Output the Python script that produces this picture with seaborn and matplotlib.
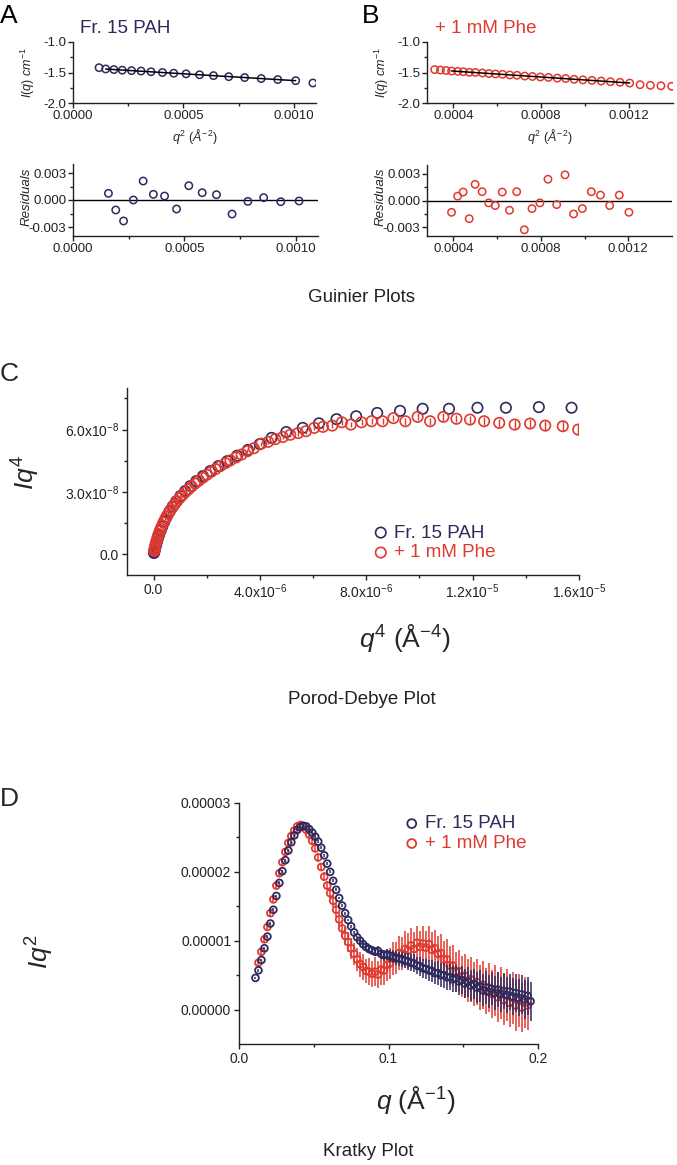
import matplotlib
matplotlib.use("Agg")
import matplotlib.pyplot as plt
import seaborn as sns
from matplotlib.ticker import FixedLocator, FormatStrFormatter, FixedFormatter

# ---- data: Guinier A (Fr. 15 PAH) ----
guinA_x = [0.000118, 0.000148, 0.000185, 0.000223, 0.000265, 0.000308, 0.000353, 0.000405, 0.000456,
           0.000512, 0.000573, 0.000636, 0.000705, 0.000777, 0.000852, 0.000927, 0.001008, 0.001086]
guinA_y = [-1.421, -1.442, -1.452, -1.462, -1.469, -1.476, -1.488, -1.500, -1.512,
           -1.522, -1.537, -1.551, -1.568, -1.583, -1.599, -1.616, -1.634, -1.672]
fitA_x = [0.000148, 0.001008]
fitA_y = [-1.443, -1.634]
residA_x = [0.000159, 0.000192, 0.000227, 0.000271, 0.000315, 0.000361, 0.000411, 0.000465,
            0.000520, 0.000580, 0.000644, 0.000714, 0.000785, 0.000856, 0.000933, 0.001015]
residA = [0.00074, -0.00111, -0.00233, 0.0, 0.00211, 0.00063, 0.00044, -0.0010,
          0.00159, 0.00081, 0.00059, -0.00156, -0.00015, 0.00026, -0.00019, -0.00011]

# ---- data: Guinier B (+ 1 mM Phe) ----
guinB_x = [0.000315, 0.000341, 0.000367, 0.000392, 0.000420, 0.000445, 0.000473, 0.000500, 0.000532,
           0.000562, 0.000592, 0.000624, 0.000657, 0.000690, 0.000725, 0.000760, 0.000796, 0.000833,
           0.000873, 0.000911, 0.000950, 0.000990, 0.001031, 0.001073, 0.001115, 0.001159, 0.001203,
           0.001250, 0.001297, 0.001345, 0.001394]
guinB_y = [-1.452, -1.460, -1.467, -1.476, -1.481, -1.487, -1.497, -1.499, -1.508,
           -1.517, -1.524, -1.530, -1.541, -1.546, -1.559, -1.565, -1.574, -1.580,
           -1.592, -1.598, -1.612, -1.621, -1.629, -1.640, -1.651, -1.661, -1.673,
           -1.700, -1.710, -1.718, -1.726]
fitB_x = [0.000392, 0.001203]
fitB_y = [-1.475, -1.672]
residB_x = guinB_x[3:27]
residB = [-0.00133, 0.00049, 0.00095, -0.00205, 0.00182, 0.00099, -0.00027, -0.00057,
          0.00095, -0.0011, 0.00099, -0.0033, -0.00091, -0.00027, 0.0024, -0.00046,
          0.00289, -0.00152, -0.00091, 0.00099, 0.00061, -0.00057, 0.00061, -0.00133]

# ---- data: Porod-Debye (x in 1e-6 A^-4, y in 1e-8) ----
porod_pah_x = [0.014, 0.022, 0.033, 0.048, 0.067, 0.092, 0.122, 0.160, 0.206, 0.261, 0.326, 0.403,
               0.493, 0.597, 0.717, 0.854, 1.010, 1.186, 1.384, 1.606, 1.854, 2.129, 2.434, 2.771,
               3.141, 3.548, 3.992, 4.44, 4.99, 5.61, 6.22, 6.88, 7.62, 8.41, 9.27, 10.12, 11.11,
               12.18, 13.25, 14.49, 15.72]
porod_pah_y = [0.06, 0.10, 0.16, 0.24, 0.33, 0.45, 0.58, 0.75, 0.93, 1.12, 1.33, 1.56,
               1.80, 2.05, 2.30, 2.55, 2.80, 3.04, 3.28, 3.52, 3.76, 4.00, 4.24, 4.48,
               4.74, 5.02, 5.30, 5.60, 5.88, 6.08, 6.30, 6.50, 6.64, 6.80, 6.90, 7.00, 7.00,
               7.05, 7.05, 7.08, 7.05]
porod_phe_x = [0.02, 0.03, 0.045, 0.06, 0.08, 0.10, 0.13, 0.16, 0.19, 0.23, 0.27, 0.32, 0.37, 0.43,
               0.49, 0.56, 0.63, 0.71, 0.79, 0.88, 0.98, 1.08, 1.19, 1.31, 1.43, 1.56, 1.70, 1.85,
               2.00, 2.16, 2.33, 2.51, 2.70, 2.89, 3.10, 3.31, 3.53, 3.77, 4.05, 4.31, 4.58, 4.86,
               5.14, 5.43, 5.73, 6.04, 6.37, 6.72, 7.08, 7.42, 7.82, 8.20, 8.61, 9.02, 9.47, 9.93,
               10.40, 10.90, 11.39, 11.90, 12.43, 13.00, 13.58, 14.16, 14.73, 15.39, 15.97]
porod_phe_y = [0.15, 0.22, 0.30, 0.40, 0.50, 0.60, 0.72, 0.85, 0.97, 1.10, 1.24, 1.38, 1.52, 1.68,
               1.82, 1.97, 2.12, 2.26, 2.40, 2.55, 2.70, 2.84, 2.98, 3.12, 3.26, 3.40, 3.54, 3.68,
               3.82, 3.96, 4.10, 4.24, 4.38, 4.52, 4.66, 4.80, 4.96, 5.10, 5.32, 5.41, 5.54, 5.64,
               5.75, 5.83, 5.92, 6.08, 6.13, 6.19, 6.35, 6.24, 6.35, 6.40, 6.40, 6.55, 6.40, 6.61,
               6.40, 6.61, 6.52, 6.48, 6.40, 6.32, 6.24, 6.29, 6.19, 6.16, 6.00]
porod_phe_err = [0.03, 0.03, 0.03, 0.03, 0.03, 0.03, 0.03, 0.03, 0.03, 0.03, 0.04, 0.04, 0.04, 0.04,
                 0.04, 0.04, 0.05, 0.05, 0.05, 0.05, 0.05, 0.05, 0.06, 0.06, 0.06, 0.06, 0.07, 0.07,
                 0.07, 0.07, 0.08, 0.08, 0.08, 0.08, 0.09, 0.09, 0.09, 0.10, 0.10, 0.10, 0.11, 0.11,
                 0.11, 0.12, 0.12, 0.12, 0.13, 0.13, 0.13, 0.14, 0.14, 0.15, 0.15, 0.16, 0.16, 0.17,
                 0.17, 0.18, 0.18, 0.19, 0.19, 0.20, 0.21, 0.22, 0.23, 0.24, 0.25]

# ---- data: Kratky (q in A^-1, Iq2 in 1e-5) ----
kratky_q = [0.011, 0.013, 0.015, 0.017, 0.019, 0.021, 0.023, 0.025, 0.027, 0.029,
            0.031, 0.033, 0.035, 0.037, 0.039, 0.041, 0.043, 0.045, 0.047, 0.049,
            0.051, 0.053, 0.055, 0.057, 0.059, 0.061, 0.063, 0.065, 0.067, 0.069,
            0.071, 0.073, 0.075, 0.077, 0.079, 0.081, 0.083, 0.085, 0.087, 0.089,
            0.091, 0.093, 0.095, 0.097, 0.099, 0.101, 0.103, 0.105, 0.107, 0.109,
            0.111, 0.113, 0.115, 0.117, 0.119, 0.121, 0.123, 0.125, 0.127, 0.129,
            0.131, 0.133, 0.135, 0.137, 0.139, 0.141, 0.143, 0.145, 0.147, 0.149,
            0.151, 0.153, 0.155, 0.157, 0.159, 0.161, 0.163, 0.165, 0.167, 0.169,
            0.171, 0.173, 0.175, 0.177, 0.179, 0.181, 0.183, 0.185, 0.187, 0.189,
            0.191, 0.193, 0.195]
kratky_pah = [0.46, 0.57, 0.72, 0.89, 1.06, 1.25, 1.45, 1.65, 1.84, 2.01,
              2.17, 2.31, 2.43, 2.53, 2.61, 2.65, 2.67, 2.66, 2.62, 2.57,
              2.51, 2.44, 2.35, 2.24, 2.12, 2.00, 1.87, 1.74, 1.62, 1.51,
              1.40, 1.30, 1.21, 1.12, 1.05, 1.00, 0.95, 0.91, 0.88, 0.86,
              0.84, 0.85, 0.81, 0.79, 0.80, 0.78, 0.77, 0.75, 0.74, 0.73,
              0.71, 0.70, 0.68, 0.67, 0.64, 0.63, 0.60, 0.59, 0.57, 0.56,
              0.53, 0.53, 0.50, 0.50, 0.47, 0.47, 0.44, 0.45, 0.41, 0.43,
              0.38, 0.40, 0.35, 0.37, 0.32, 0.34, 0.28, 0.32, 0.26, 0.30,
              0.24, 0.29, 0.22, 0.27, 0.21, 0.26, 0.19, 0.24, 0.17, 0.22,
              0.15, 0.20, 0.12]
kratky_pah_err = [0.02, 0.02, 0.02, 0.02, 0.02, 0.02, 0.02, 0.02, 0.02, 0.02,
                  0.02, 0.02, 0.02, 0.02, 0.02, 0.02, 0.02, 0.02, 0.02, 0.02,
                  0.02, 0.02, 0.02, 0.02, 0.02, 0.02, 0.02, 0.02, 0.02, 0.02,
                  0.02, 0.02, 0.02, 0.02, 0.02, 0.03, 0.04, 0.05, 0.05, 0.06,
                  0.06, 0.07, 0.07, 0.08, 0.08, 0.09, 0.09, 0.10, 0.10, 0.11,
                  0.11, 0.12, 0.12, 0.13, 0.13, 0.14, 0.14, 0.15, 0.15, 0.16,
                  0.16, 0.17, 0.17, 0.18, 0.18, 0.19, 0.19, 0.20, 0.20, 0.21,
                  0.21, 0.22, 0.22, 0.22, 0.23, 0.23, 0.23, 0.24, 0.24, 0.24,
                  0.25, 0.25, 0.25, 0.26, 0.26, 0.26, 0.27, 0.27, 0.27, 0.28,
                  0.28, 0.28, 0.28]
kratky_phe_q = kratky_q[1:92]
kratky_phe = [0.68, 0.84, 1.02, 1.20, 1.40, 1.60, 1.80, 1.98, 2.14, 2.29,
              2.42, 2.52, 2.60, 2.66, 2.68, 2.66, 2.61, 2.54, 2.45, 2.34,
              2.21, 2.07, 1.93, 1.80, 1.69, 1.58, 1.45, 1.31, 1.18, 1.07,
              0.98, 0.89, 0.81, 0.73, 0.66, 0.62, 0.56, 0.55, 0.52, 0.55,
              0.51, 0.58, 0.57, 0.65, 0.67, 0.74, 0.75, 0.82, 0.81, 0.88,
              0.86, 0.93, 0.88, 0.97, 0.91, 0.96, 0.90, 0.95, 0.87, 0.89,
              0.81, 0.82, 0.73, 0.73, 0.64, 0.64, 0.55, 0.56, 0.48, 0.49,
              0.42, 0.44, 0.37, 0.40, 0.32, 0.36, 0.27, 0.32, 0.23, 0.28,
              0.18, 0.24, 0.14, 0.21, 0.10, 0.17, 0.06, 0.13, 0.03, 0.10,
              0.06]
kratky_phe_err = [0.05, 0.05, 0.05, 0.05, 0.05, 0.05, 0.05, 0.05, 0.05, 0.05,
                  0.05, 0.05, 0.05, 0.05, 0.05, 0.05, 0.05, 0.05, 0.05, 0.05,
                  0.06, 0.06, 0.07, 0.07, 0.08, 0.09, 0.10, 0.11, 0.12, 0.13,
                  0.14, 0.15, 0.16, 0.17, 0.18, 0.19, 0.18, 0.20, 0.19, 0.21,
                  0.20, 0.22, 0.21, 0.23, 0.22, 0.24, 0.23, 0.25, 0.24, 0.26,
                  0.25, 0.26, 0.24, 0.25, 0.23, 0.25, 0.24, 0.26, 0.25, 0.27,
                  0.26, 0.28, 0.27, 0.29, 0.28, 0.30, 0.29, 0.31, 0.30, 0.32,
                  0.31, 0.33, 0.32, 0.34, 0.33, 0.35, 0.34, 0.36, 0.35, 0.37,
                  0.36, 0.38, 0.37, 0.38, 0.36, 0.38, 0.37, 0.38, 0.36, 0.37,
                  0.35]

NAVY = "#2d2a5e"
RED = "#e0392e"

sns.set_theme(style="ticks")
plt.rcParams["font.family"] = ["Liberation Sans", "DejaVu Sans"]
plt.rcParams["mathtext.fontset"] = "custom"
plt.rcParams["mathtext.rm"] = "Liberation Sans"
plt.rcParams["mathtext.it"] = "Liberation Sans:italic"
plt.rcParams["mathtext.bf"] = "Liberation Sans:bold"
plt.rcParams["axes.unicode_minus"] = False

W, H = 677, 1165
fig = plt.figure(figsize=(W / 100, H / 100), dpi=100)
fig.patch.set_facecolor("white")


def px_axes(l, t, r, b):
    return fig.add_axes([l / W, 1 - b / H, (r - l) / W, (b - t) / H])


def ptext(x, y, s, **kw):
    kw.setdefault("ha", "center")
    kw.setdefault("va", "center")
    fig.text(x / W, 1 - y / H, s, **kw)


def style(ax, size, pad=2):
    sns.despine(ax=ax)
    ax.set_facecolor("white")
    for sp in ("left", "bottom"):
        ax.spines[sp].set_color("#222222")
        ax.spines[sp].set_linewidth(1.0)
    ax.tick_params(which="major", direction="out", length=3.6, width=1.0,
                   labelsize=size, colors="#222222", pad=pad)
    ax.tick_params(which="minor", direction="out", length=2.2, width=1.0, colors="#222222")
    ax.set_xlabel("")
    ax.set_ylabel("")


def scat(ax, x, y, color, s, lw, z, label=None):
    sns.scatterplot(x=x, y=y, ax=ax, marker="o", s=s, facecolor="none",
                    edgecolor=color, linewidth=lw, zorder=z, label=label, legend=False)


# ---------------- Guinier plots ----------------
for (top, res, gx, gy, fx, fy, rx, rv, xlim, xt, minor_x, col, title, tx, letter, lx) in [
    ((73, 42, 316, 103), (73, 164, 318, 236), guinA_x, guinA_y, fitA_x, fitA_y, residA_x, residA,
     (0, 0.0011), [0, 0.0005, 0.0010], [0.00025, 0.00075], NAVY, "Fr. 15 PAH", 80, "A", 0),
    ((427, 42, 673, 103), (427, 165, 672, 236), guinB_x, guinB_y, fitB_x, fitB_y, residB_x, residB,
     (0.00028, 0.0014), [0.0004, 0.0008, 0.0012], [0.0006, 0.0010], RED, "+ 1 mM Phe", 435, "B", 362),
]:
    ax = px_axes(*top)
    scat(ax, gx, gy, col, 28, 1.1, 3)
    sns.lineplot(x=fx, y=fy, ax=ax, color="black", linewidth=1.1, zorder=4)
    ax.set_xlim(*xlim)
    ax.set_ylim(-2.0, -1.0)
    ax.xaxis.set_major_locator(FixedLocator(xt))
    ax.xaxis.set_minor_locator(FixedLocator(minor_x))
    ax.xaxis.set_major_formatter(FormatStrFormatter("%.4f"))
    ax.yaxis.set_major_locator(FixedLocator([-2.0, -1.5, -1.0]))
    ax.yaxis.set_minor_locator(FixedLocator([-1.75, -1.25]))
    ax.yaxis.set_major_formatter(FormatStrFormatter("%.1f"))
    style(ax, 9.5, pad=1.2)

    axr = px_axes(*res)
    axr.axhline(0, color="black", linewidth=1.0, zorder=2)
    scat(axr, rx, rv, col, 28, 1.1, 3)
    axr.set_xlim(*xlim)
    axr.set_ylim(-0.004, 0.004)
    axr.xaxis.set_major_locator(FixedLocator(xt))
    axr.xaxis.set_minor_locator(FixedLocator(minor_x))
    axr.xaxis.set_major_formatter(FormatStrFormatter("%.4f"))
    axr.yaxis.set_major_locator(FixedLocator([-0.003, 0.0, 0.003]))
    axr.yaxis.set_minor_locator(FixedLocator([-0.0015, 0.0015]))
    axr.yaxis.set_major_formatter(FormatStrFormatter("%.3f"))
    style(axr, 9.5, pad=1.2)

    ptext(tx, 33, title, ha="left", va="baseline", fontsize=13.5, color=col)
    ptext(lx, 4, letter, ha="left", va="top", fontsize=19, color="black")
    cx = (top[0] + top[2]) / 2
    ptext(cx, 137, r"$q^{2}$ $(Å^{-2})$", fontsize=9)
    ptext(top[0] - 45, 72, r"$I(q)$ $cm^{-1}$", fontsize=9, rotation=90)
    ptext(top[0] - 46, 197, "Residuals", fontsize=9.5, style="italic", rotation=90)

ptext(362, 298, "Guinier Plots", fontsize=13.5, color="#222222")

# ---------------- Porod-Debye plot ----------------
axc = px_axes(127, 388, 579, 575)
scat(axc, [v * 1e-6 for v in porod_pah_x], [v * 1e-8 for v in porod_pah_y], NAVY, 56, 1.2, 3,
     label="Fr. 15 PAH")
axc.errorbar([v * 1e-6 for v in porod_phe_x], [v * 1e-8 for v in porod_phe_y],
             yerr=[v * 1e-8 for v in porod_phe_err], fmt="none", ecolor=RED,
             elinewidth=1.0, capsize=0, zorder=4)
scat(axc, [v * 1e-6 for v in porod_phe_x], [v * 1e-8 for v in porod_phe_y], RED, 56, 1.2, 5,
     label="+ 1 mM Phe")
axc.set_xlim(-1e-6, 1.6e-5)
axc.set_ylim(-1e-8, 8e-8)
axc.xaxis.set_major_locator(FixedLocator([0, 4e-6, 8e-6, 1.2e-5, 1.6e-5]))
axc.xaxis.set_major_formatter(FixedFormatter(["0.0", r"4.0x10$^{-6}$", r"8.0x10$^{-6}$",
                                              r"1.2x10$^{-5}$", r"1.6x10$^{-5}$"]))
axc.xaxis.set_minor_locator(FixedLocator([2e-6, 6e-6, 1e-5, 1.4e-5]))
axc.yaxis.set_major_locator(FixedLocator([0, 3e-8, 6e-8]))
axc.yaxis.set_major_formatter(FixedFormatter(["0.0", r"3.0x10$^{-8}$", r"6.0x10$^{-8}$"]))
axc.yaxis.set_minor_locator(FixedLocator([1.5e-8, 4.5e-8, 7.5e-8]))
style(axc, 10)
leg = axc.legend(loc="upper left", bbox_to_anchor=(362 / W, 1 - 515 / H),
                 bbox_transform=fig.transFigure, frameon=False, fontsize=13.5,
                 handletextpad=0.2, labelspacing=0.15, borderpad=0, handlelength=1.0)
for t, c in zip(leg.get_texts(), [NAVY, RED]):
    t.set_color(c)

ptext(0, 362, "C", ha="left", va="top", fontsize=19)
ptext(26, 473, r"$Iq^{4}$", fontsize=19, rotation=90)
ptext(405, 638, r"$q^{4}$ (Å$^{-4}$)", fontsize=19)
ptext(362, 699, "Porod-Debye Plot", fontsize=13.5, color="#222222")

# ---------------- Kratky plot ----------------
axd = px_axes(239, 803, 538, 1044)
axd.errorbar(kratky_phe_q, [v * 1e-5 for v in kratky_phe], yerr=[v * 1e-5 for v in kratky_phe_err],
             fmt="none", ecolor=RED, elinewidth=1.1, capsize=0, zorder=2)
scat(axd, kratky_phe_q, [v * 1e-5 for v in kratky_phe], RED, 24, 1.3, 3, label="+ 1 mM Phe")
axd.errorbar(kratky_q, [v * 1e-5 for v in kratky_pah], yerr=[v * 1e-5 for v in kratky_pah_err],
             fmt="none", ecolor=NAVY, elinewidth=1.1, capsize=0, zorder=4)
scat(axd, kratky_q, [v * 1e-5 for v in kratky_pah], NAVY, 24, 1.3, 5, label="Fr. 15 PAH")
axd.set_xlim(0, 0.2)
axd.set_ylim(-5e-6, 3e-5)
axd.xaxis.set_major_locator(FixedLocator([0, 0.1, 0.2]))
axd.xaxis.set_minor_locator(FixedLocator([0.05, 0.15]))
axd.xaxis.set_major_formatter(FormatStrFormatter("%.1f"))
axd.yaxis.set_major_locator(FixedLocator([0, 1e-5, 2e-5, 3e-5]))
axd.yaxis.set_minor_locator(FixedLocator([5e-6, 1.5e-5, 2.5e-5]))
axd.yaxis.set_major_formatter(FormatStrFormatter("%.5f"))
style(axd, 10)
h, l = axd.get_legend_handles_labels()
leg = axd.legend([h[1], h[0]], [l[1], l[0]], loc="upper left",
                 bbox_to_anchor=(393 / W, 1 - 806 / H), bbox_transform=fig.transFigure,
                 frameon=False, fontsize=13.5, handletextpad=0.2, labelspacing=0.15,
                 borderpad=0, handlelength=1.0, markerscale=1.3)
for t, c in zip(leg.get_texts(), [NAVY, RED]):
    t.set_color(c)

ptext(0, 787, "D", ha="left", va="top", fontsize=19)
ptext(40, 952, r"$Iq^{2}$", fontsize=19, rotation=90)
ptext(416, 1100, r"$q$ (Å$^{-1}$)", fontsize=19)
ptext(368, 1152, "Kratky Plot", fontsize=13.5, color="#222222")

fig.savefig("out.png", dpi=100, facecolor="white")
